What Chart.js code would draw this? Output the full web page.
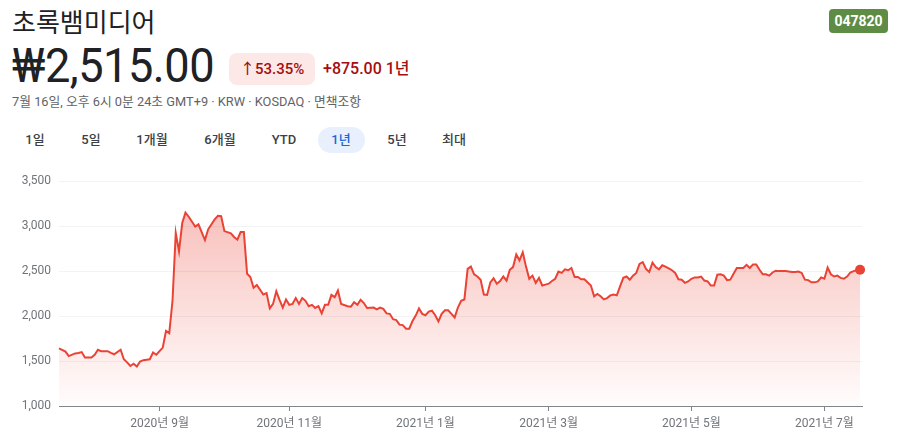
<!DOCTYPE html>
<html lang="ko">
<head>
<meta charset="utf-8">
<script src="https://cdn.jsdelivr.net/npm/chart.js@4.4.1/dist/chart.umd.min.js"></script>
<style>
  html, body { margin:0; padding:0; background:#fff; }
  body { width:897px; height:444px; position:relative; overflow:hidden; font-family: Roboto, "Noto Sans CJK KR", sans-serif; color:#202124; }
  .abs { position:absolute; white-space:nowrap; }
  #title { left:12px; top:3px; font-family:"Noto Sans CJK KR", sans-serif; font-size:26px; line-height:36px; color:#202124; }
  #price { left:12px; top:38px; font-size:48px; line-height:56px; color:#202124; letter-spacing:-0.5px; transform:scaleX(0.94); transform-origin:left center; }
  #badge { left:229px; top:53px; width:86px; height:32px; background:#fce8e6; border-radius:8px; }
  #pct { left:240px; top:53px; font-size:15px; line-height:32px; color:#a50e0e; font-weight:500; }
  #chg { left:323px; top:53px; font-size:16px; line-height:32px; color:#a50e0e; font-weight:500; }
  #sub { left:12px; top:93px; font-size:12.8px; line-height:18px; color:#5f6368; font-family: Roboto, "Noto Sans CJK KR", sans-serif; }
  .tab { top:127px; font-size:13px; line-height:26px; color:#3c4043; font-weight:500; transform:translateX(-50%); }
  #pill { left:318px; top:127px; width:47px; height:26px; background:#e8f0fe; border-radius:13px; }
  #ticker { left:829px; top:9px; width:59px; height:24px; background:#5e8c45; border-radius:4px; color:#fff; font-weight:700; font-size:14px; line-height:24px; text-align:center; }
  #wrap { position:absolute; left:0; top:166px; width:880px; height:278px; }
</style>
</head>
<body>
<div id="title" class="abs">초록뱀미디어</div>
<div id="ticker" class="abs">047820</div>
<div id="price" class="abs">₩2,515.00</div>
<div id="badge" class="abs"></div>
<div id="pct" class="abs">↑53.35%</div>
<div id="chg" class="abs">+875.00 1년</div>
<div id="sub" class="abs">7월 16일, 오후 6시 0분 24초 GMT+9 · KRW · KOSDAQ · 면책조항</div>
<div id="pill" class="abs"></div>
<div class="abs tab" style="left:35px">1일</div>
<div class="abs tab" style="left:91px">5일</div>
<div class="abs tab" style="left:152px">1개월</div>
<div class="abs tab" style="left:220px">6개월</div>
<div class="abs tab" style="left:284px">YTD</div>
<div class="abs tab" style="left:341px;color:#1967d2">1년</div>
<div class="abs tab" style="left:397px">5년</div>
<div class="abs tab" style="left:454px">최대</div>
<div id="wrap"><canvas id="c"></canvas></div>
<script>
// trading-day index (0 = first day shown) and closing price (KRW)
const days = [0,2,3,5,6,7,8,10,11,12,13,15,16,17,19,20,21,22,23,24,25,26,28,29,30,32,33,34,35,36,37,38,39,40,42,43,45,46,48,49,50,51,53,54,55,56,57,58,59,60,61,63,64,65,66,67,68,69,70,71,72,73,74,75,76,77,78,79,80,81,82,83,84,85,86,87,89,90,91,92,93,94,95,97,98,99,100,101,102,103,104,105,106,107,108,109,110,111,112,113,114,115,116,117,118,119,120,121,122,123,124,125,126,127,128,129,130,131,132,133,134,135,136,137,138,139,140,141,142,143,144,145,146,147,148,149,150,151,152,153,154,155,156,157,158,159,160,161,162,164,165,166,167,168,169,170,171,172,173,174,175,176,177,178,179,180,181,182,183,184,185,186,187,188,189,190,191,192,193,194,195,196,197,198,199,200,201,202,203,204,205,206,207,208,209,210,211,212,213,214,215,216,217,218,219,220,221,222,223,224,225,226,227,228,229,230,231,232,233,234,235,236,237,238,239,240,241,242,243,244,245,246,247];
const prices = [1640,1605,1555,1585,1590,1600,1540,1540,1570,1625,1610,1610,1590,1575,1625,1520,1485,1445,1470,1440,1495,1510,1520,1595,1570,1650,1835,1810,2170,2925,2720,3035,3150,3105,2995,3020,2845,2965,3075,3115,3110,2945,2920,2880,2850,2935,2935,2470,2435,2315,2345,2240,2255,2085,2135,2275,2180,2095,2185,2125,2135,2200,2135,2200,2170,2110,2125,2090,2110,2030,2125,2125,2235,2210,2285,2135,2110,2105,2155,2125,2180,2145,2090,2095,2075,2095,2080,2030,2025,1965,1955,1905,1900,1860,1860,1945,2005,2085,2025,2010,2050,2060,2010,1940,2025,2065,2065,2025,1985,2095,2170,2185,2525,2550,2465,2440,2405,2240,2235,2375,2420,2360,2390,2440,2395,2515,2545,2685,2620,2710,2550,2415,2450,2370,2425,2340,2350,2360,2390,2415,2495,2480,2520,2510,2535,2435,2435,2410,2410,2340,2220,2245,2220,2185,2200,2230,2240,2230,2330,2425,2440,2405,2450,2480,2580,2600,2525,2490,2595,2545,2520,2565,2550,2530,2510,2480,2410,2405,2370,2385,2415,2430,2430,2440,2395,2385,2340,2340,2460,2465,2450,2400,2405,2470,2535,2535,2535,2570,2535,2575,2575,2515,2465,2465,2450,2485,2505,2500,2500,2500,2495,2490,2490,2495,2480,2405,2400,2375,2375,2385,2430,2415,2540,2465,2440,2450,2425,2415,2440,2485,2500,2510,2515];
const xTickDays = [31,71,113,151,195,236];
const xTickLabels = ['2020년 9월','2020년 11월','2021년 1월','2021년 3월','2021년 5월','2021년 7월'];
const yTickValues = [1000,1500,2000,2500,3000,3500];
const yTickLabels = ['1,000','1,500','2,000','2,500','3,000','3,500'];

const lineColor = '#ea4335';
const ctx = document.getElementById('c').getContext('2d');
const lastIdx = prices.length - 1;

new Chart(ctx, {
  type: 'line',
  data: {
    datasets: [{
      data: days.map((d, i) => ({ x: d, y: prices[i] })),
      borderColor: lineColor,
      borderWidth: 2,
      tension: 0,
      clip: false,
      fill: 'start',
      backgroundColor: (c) => {
        const a = c.chart.chartArea;
        if (!a) return 'rgba(234,67,53,0.15)';
        const g = c.chart.ctx.createLinearGradient(0, a.top, 0, a.bottom);
        g.addColorStop(0, 'rgba(234,67,53,0.38)');
        g.addColorStop(1, 'rgba(234,67,53,0.01)');
        return g;
      },
      pointRadius: (c) => c.dataIndex === lastIdx ? 5 : 0,
      pointHoverRadius: 0,
      pointBackgroundColor: lineColor,
      pointBorderWidth: 0
    }]
  },
  options: {
    responsive: true,
    maintainAspectRatio: false,
    animation: false,
    layout: { padding: { top: 7, right: 18, left: 0, bottom: 0 } },
    plugins: { legend: { display: false }, tooltip: { enabled: false } },
    scales: {
      x: {
        type: 'linear',
        min: 0, max: 247.6,
        afterBuildTicks: (s) => { s.ticks = xTickDays.map(v => ({ value: v })); },
        afterFit: (s) => { s.height = 38; },
        ticks: {
          autoSkip: false, maxRotation: 0, padding: 6,
          color: '#70757a',
          font: { family: 'Roboto, "Noto Sans CJK KR", sans-serif', size: 12 },
          callback: (v) => { const i = xTickDays.indexOf(v); return i >= 0 ? xTickLabels[i] : ''; }
        },
        grid: { drawOnChartArea: false, drawTicks: true, tickLength: 5, color: '#80868b', tickColor: '#80868b' },
        border: { display: true, color: '#80868b', width: 1 }
      },
      y: {
        min: 1000, max: 3500,
        afterBuildTicks: (s) => { s.ticks = yTickValues.map(v => ({ value: v })); },
        afterFit: (s) => { s.width = 59; },
        ticks: {
          padding: 8,
          color: '#70757a',
          font: { family: 'Roboto, sans-serif', size: 12 },
          callback: (v) => { const i = yTickValues.indexOf(v); return i >= 0 ? yTickLabels[i] : ''; }
        },
        grid: { color: (c) => c.tick && c.tick.value === 1000 ? 'rgba(0,0,0,0)' : '#f1f3f4', drawTicks: false, lineWidth: 1 },
        border: { display: false }
      }
    }
  }
});
</script>
</body>
</html>
